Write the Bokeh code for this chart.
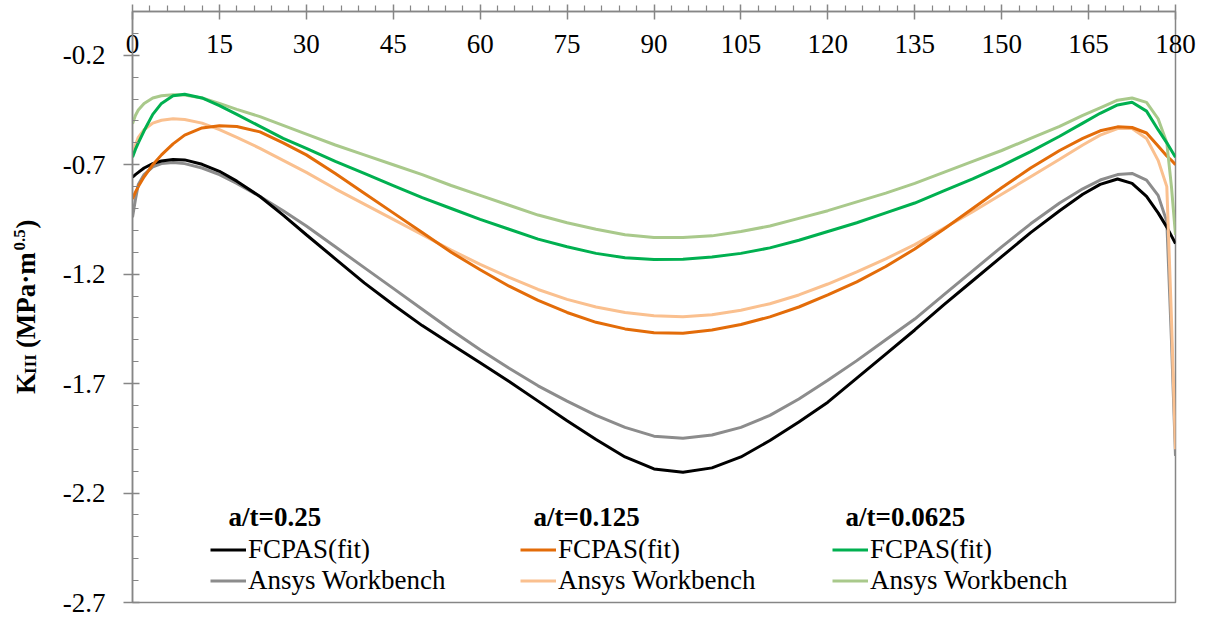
import math

from bokeh.embed import file_html
from bokeh.layouts import row
from bokeh.models import FixedTicker, Label, Legend, LegendItem, Range1d
from bokeh.plotting import figure
from bokeh.resources import INLINE

# Crack-front angle (degrees)
theta = [0, 0.5, 1, 2, 3.5, 5, 7, 9, 12, 15, 18, 22, 26, 30, 35, 40, 45, 50, 55, 60,
         65, 70, 75, 80, 85, 90, 95, 100, 105, 110, 115, 120, 125, 130, 135, 140, 145,
         150, 155, 160, 164, 167, 170, 172.5, 175, 177, 178.5, 179.3, 180]

# K_III values, a/t = 0.25
fcpas_025 = [-0.757, -0.745, -0.735, -0.715, -0.695, -0.683, -0.676, -0.678, -0.698,
             -0.73, -0.775, -0.845, -0.93, -1.02, -1.13, -1.24, -1.34, -1.435, -1.52,
             -1.605, -1.69, -1.78, -1.87, -1.955, -2.035, -2.09, -2.105, -2.085, -2.035,
             -1.96, -1.875, -1.785, -1.675, -1.565, -1.455, -1.34, -1.23, -1.12, -1.01,
             -0.91, -0.835, -0.79, -0.765, -0.785, -0.845, -0.92, -0.985, -1.025, -1.06]
ansys_025 = [-0.94, -0.86, -0.79, -0.745, -0.71, -0.695, -0.69, -0.695, -0.715, -0.745,
             -0.785, -0.845, -0.91, -0.98, -1.075, -1.17, -1.265, -1.36, -1.455, -1.545,
             -1.63, -1.71, -1.78, -1.845, -1.9, -1.94, -1.95, -1.935, -1.9, -1.845,
             -1.77, -1.685, -1.595, -1.5, -1.405, -1.295, -1.185, -1.075, -0.97, -0.875,
             -0.81, -0.77, -0.745, -0.74, -0.77, -0.84, -0.96, -1.5, -2.03]

# K_III values, a/t = 0.125
fcpas_0125 = [-0.856, -0.825, -0.8, -0.755, -0.7, -0.655, -0.605, -0.565, -0.532, -0.522,
              -0.525, -0.55, -0.6, -0.655, -0.74, -0.83, -0.92, -1.01, -1.1, -1.18,
              -1.255, -1.32, -1.375, -1.42, -1.45, -1.468, -1.47, -1.455, -1.43, -1.395,
              -1.35, -1.295, -1.235, -1.165, -1.085, -0.995, -0.9, -0.805, -0.715, -0.635,
              -0.58, -0.545, -0.527, -0.53, -0.555, -0.615, -0.66, -0.68, -0.7]
ansys_0125 = [-0.658, -0.61, -0.575, -0.54, -0.51, -0.497, -0.49, -0.493, -0.51, -0.54,
              -0.575, -0.625, -0.68, -0.735, -0.81, -0.88, -0.95, -1.02, -1.09, -1.155,
              -1.215, -1.27, -1.315, -1.35, -1.375, -1.39, -1.395, -1.385, -1.365, -1.335,
              -1.295, -1.245, -1.19, -1.13, -1.065, -0.99, -0.915, -0.835, -0.755, -0.675,
              -0.61, -0.565, -0.535, -0.535, -0.58, -0.68, -0.8, -1.4, -2.0]

# K_III values, a/t = 0.0625
fcpas_00625 = [-0.666, -0.63, -0.6, -0.545, -0.47, -0.42, -0.385, -0.378, -0.395, -0.43,
               -0.47, -0.525, -0.58, -0.625, -0.685, -0.74, -0.795, -0.85, -0.9, -0.95,
               -0.995, -1.04, -1.075, -1.105, -1.125, -1.133, -1.132, -1.122, -1.105,
               -1.08, -1.045, -1.005, -0.965, -0.92, -0.875, -0.82, -0.765, -0.705, -0.64,
               -0.57, -0.51, -0.465, -0.427, -0.415, -0.455, -0.54, -0.6, -0.635, -0.666]
ansys_00625 = [-0.513, -0.475, -0.45, -0.42, -0.395, -0.385, -0.38, -0.382, -0.395, -0.42,
               -0.447, -0.48, -0.52, -0.56, -0.61, -0.655, -0.7, -0.745, -0.795, -0.84,
               -0.885, -0.93, -0.965, -0.995, -1.02, -1.033, -1.033, -1.025, -1.005,
               -0.98, -0.945, -0.91, -0.87, -0.83, -0.785, -0.735, -0.685, -0.635, -0.58,
               -0.525, -0.475, -0.44, -0.405, -0.395, -0.415, -0.49, -0.6, -0.8, -1.02]

x_ticks = [0, 15, 30, 45, 60, 75, 90, 105, 120, 135, 150, 165, 180]
x_minor = [v for v in range(0, 181, 3) if v % 15 != 0]
y_ticks = [-2.7, -2.2, -1.7, -1.2, -0.7, -0.2]
y_minor = [-2.6, -2.5, -2.4, -2.3, -2.1, -2.0, -1.9, -1.8, -1.6, -1.5, -1.4, -1.3,
           -1.1, -1.0, -0.9, -0.8, -0.6, -0.5, -0.4, -0.3, -0.1]

groups = ["a/t=0.25", "a/t=0.125", "a/t=0.0625"]
series_names = ["FCPAS(fit)", "Ansys Workbench"]

SERIF = "serif"
AXIS_GREY = "#868686"
TITLE_W = 56
HEIGHT = 618

# narrow strip on the left carrying the rotated y-axis title
tf = figure(width=TITLE_W, height=HEIGHT, output_backend="svg", toolbar_location=None,
            x_range=Range1d(0, TITLE_W), y_range=Range1d(0, HEIGHT),
            x_axis_location=None, y_axis_location=None, min_border=0,
            min_border_left=0, min_border_right=0, min_border_top=0,
            min_border_bottom=0)
tf.grid.visible = False
tf.outline_line_color = None
# K_III (MPa·m^0.5), built from pieces so the sub/superscripts can be offset
title_parts = [
    ("K", 25, 218, "27px"),
    ("III", 30, 239, "17px"),
    ("(MPa·m", 25, 266, "27px"),
    ("0.5", 19, 368, "17px"),
    (")", 25, 391, "27px"),
]
for txt, tx, ty, fs in title_parts:
    tf.add_layout(Label(x=tx, y=ty, text=txt, angle=math.pi / 2, text_font=SERIF,
                        text_font_style="bold", text_font_size=fs,
                        text_baseline="alphabetic", text_align="left",
                        text_color="black"))

p = figure(width=1208 - TITLE_W, height=HEIGHT, output_backend="svg",
           toolbar_location=None, x_range=Range1d(0, 180), y_range=Range1d(-2.7, 0),
           x_axis_location="above", min_border_left=132 - TITLE_W, min_border_right=33,
           min_border_top=11, min_border_bottom=16)
p.grid.visible = False
p.outline_line_color = AXIS_GREY
p.outline_line_width = 1.5
p.background_fill_color = "white"
p.border_fill_color = "white"

# top angle axis, labels sitting just inside the frame
xa = p.xaxis[0]
xa.ticker = FixedTicker(ticks=x_ticks, minor_ticks=x_minor)
xa.axis_line_color = AXIS_GREY
xa.axis_line_width = 1.5
xa.major_tick_line_color = AXIS_GREY
xa.minor_tick_line_color = AXIS_GREY
xa.major_tick_line_width = 1.5
xa.minor_tick_line_width = 1.2
xa.major_tick_in = 8
xa.major_tick_out = 7
xa.minor_tick_in = 0
xa.minor_tick_out = 6
xa.major_label_standoff = -48
xa.major_label_text_font = SERIF
xa.major_label_text_font_size = "27px"
xa.major_label_text_color = "black"

ya = p.yaxis[0]
ya.ticker = FixedTicker(ticks=y_ticks, minor_ticks=y_minor)
ya.major_label_overrides = {v: f"{v:.1f}" for v in y_ticks}
ya.axis_line_color = AXIS_GREY
ya.axis_line_width = 1.5
ya.major_tick_line_color = AXIS_GREY
ya.minor_tick_line_color = AXIS_GREY
ya.major_tick_line_width = 1.5
ya.minor_tick_line_width = 1.2
ya.major_tick_in = 7
ya.major_tick_out = 9
ya.minor_tick_in = 6
ya.minor_tick_out = 0
ya.major_label_standoff = 18
ya.major_label_text_font = SERIF
ya.major_label_text_font_size = "27px"
ya.major_label_text_color = "black"

data = [
    (fcpas_025, ansys_025, "#000000", "#8C8C8C"),
    (fcpas_0125, ansys_0125, "#E36C09", "#FAC08F"),
    (fcpas_00625, ansys_00625, "#00B050", "#A9C98B"),
]

legend_x = [78, 388, 700]
header_x = [96, 401, 713]

for (fit, fem, c_fit, c_fem), lx, hx, head in zip(data, legend_x, header_x, groups):
    r_fem = p.line(theta, fem, line_color=c_fem, line_width=3)
    r_fit = p.line(theta, fit, line_color=c_fit, line_width=3)
    leg = Legend(items=[LegendItem(label=series_names[0], renderers=[r_fit]),
                        LegendItem(label=series_names[1], renderers=[r_fem])],
                 location=(lx, 6), orientation="vertical", padding=0, margin=0,
                 spacing=0, glyph_width=36, glyph_height=29, label_height=29,
                 label_standoff=2, border_line_alpha=0, background_fill_alpha=0,
                 label_text_font=SERIF, label_text_font_size="27px",
                 label_text_color="black")
    p.add_layout(leg)
    p.add_layout(Label(x=hx, y=86, x_units="screen", y_units="screen", text=head,
                       text_font=SERIF, text_font_style="bold", text_font_size="27px",
                       text_baseline="alphabetic", text_color="black"))

open("out.html", "w").write(file_html(row(tf, p), INLINE))
